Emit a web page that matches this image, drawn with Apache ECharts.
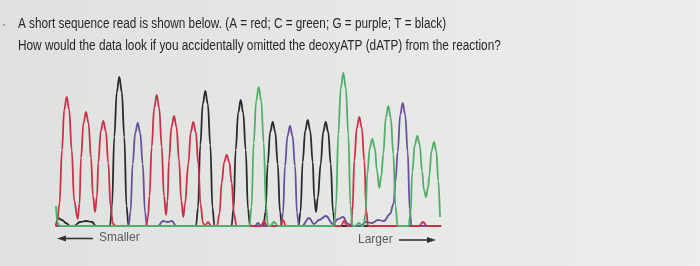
<!DOCTYPE html>
<html>
<head>
<meta charset="utf-8">
<script src="https://cdn.jsdelivr.net/npm/echarts@6/dist/echarts.min.js"></script>
<style>
html,body{margin:0;padding:0;background:#e6e8e6;}
#chart{width:700px;height:266px;}
</style>
</head>
<body>
<div id="chart"></div>
<script>
// Question text
var questionLines = [
  'A short sequence read is shown below. (A = red; C = green; G = purple; T = black)',
  'How would the data look if you accidentally omitted the deoxyATP (dATP) from the reaction?'
];
var axisLeftLabel = 'Smaller';
var axisRightLabel = 'Larger';

// Trace points: [position, signal height]
var traceA_red = [
  [56,0],[57,3],[59.5,22],[62,76],[64.2,116],[66.7,129],[69.2,116],[71.7,76],[74.2,25],[77.7,7],
  [79.5,22],[81,68],[83.5,103],[86,114],[88.5,103],[91,68],[93,30],[95,14],
  [97,30],[98.3,63],[100.8,95],[103.3,105],[105.8,95],[108.3,63],[110.5,20],[113,2],[116,0],
  [146,0],[148,8],[149.5,30],[151.7,79],[154.2,118],[156.7,131],[159.2,118],[161.7,79],[164,30],[166,11],
  [167.5,25],[169,66],[171.5,99],[174,110],[176.5,99],[179,66],[181.3,25],[183.3,9],
  [185,22],[188.3,62],[190.8,94],[193.3,104],[195.8,94],[198.3,62],[200.5,22],[203,3],[205,0],[208,4],[211,0],
  [217,0],[219.5,12],[221.7,43],[224.2,64],[226.7,71],[229.2,64],[231.7,43],[234,12],[236.5,0],
  [261,0],[264,5],[267,0],[280,0],[283,6],[286,0],
  [341,0],[344,5],[347,0],
  [351,0],[352.5,15],[354.3,65],[356.8,98],[359.3,109],[361.8,98],[364.3,65],[366.3,15],[368,0],
  [419,0],[423,4],[427,0],[441,0]
];
var traceC_green = [
  [56,20],[57.5,3],[60,0],
  [249.5,0],[251.5,19],[253.7,83],[256.2,125],[258.7,139],[261.2,125],[263.7,83],[266,19],[268,0],
  [270,0],[274,4],[278,0],
  [334,0],[336,20],[338.3,92],[340.8,138],[343.3,153],[345.8,138],[348.3,92],[350.5,20],[352.5,0],
  [355,0],[359,3],[362,0],
  [363.5,0],[365.5,12],[367.3,52],[369.8,78],[372.3,87],[374.8,78],[377,55],[379.3,38],
  [381.3,50],[383.3,72],[385.8,108],[388.3,120],[390.8,108],[393.3,72],[395.5,20],[397.5,0],
  [408.5,0],[410.5,12],[412.3,54],[414.8,81],[417.3,90],[419.8,81],[422,55],[424,36],[426,29],
  [428,38],[429.3,50],[431.5,75],[434,84],[436.3,75],[438.3,45],[440,9]
];
var traceG_purple = [
  [56,0],
  [128.5,0],[130.5,14],[132.7,62],[135.2,93],[137.7,103],[140.2,93],[142.7,62],[145,14],[147,0],
  [158,0],[163,5],[168,4],[172,5],[176,0],
  [255,0],[258,3],[261,0],
  [281,0],[283,13],[285,60],[287.5,90],[290,100],[292.5,90],[295,60],[297,13],[299,0],
  [302,0],[309,8],[314,2],[319,6],[326,10],[333,2],[338,7],[343,9],[348,2],[352,0],
  [360,0],[366,4],[372,3],[378,6],[384,5],[390,12],[393.5,22],[395.5,45],[397.7,74],[400.2,111],
  [402.7,123],[405.2,111],[407.7,74],[409.7,17],[411.5,0],
  [441,0]
];
var traceT_black = [
  [56,0],[58,8],[62,6],[66,3],[70,0],[74,0],[80,4],[86,5],[92,4],[96,0],
  [110,0],[112,20],[114.3,89],[116.8,134],[119.3,149],[121.8,134],[124.3,89],[126.5,20],[128.5,0],
  [196,0],[198,18],[200.3,81],[202.8,122],[205.3,135],[207.8,122],[210.3,81],[212.5,18],[214.5,0],
  [231.5,0],[233.5,17],[235.7,76],[238.2,113],[240.7,126],[243.2,113],[245.7,76],[248,17],[250,0],
  [263.5,0],[265.5,14],[267.7,62],[270.2,94],[272.7,104],[275.2,94],[277.7,62],[280,14],[282,0],
  [298.5,0],[300.5,14],[302.7,64],[305.2,95],[307.7,106],[310.2,95],[312.7,64],[314.3,28],[316,14],
  [317.8,28],[320.7,62],[323.2,94],[325.7,104],[328.2,94],[330.7,62],[333,14],[335,0],
  [441,0]
];

var chart = echarts.init(document.getElementById('chart'), null, {renderer:'canvas'});

function trace(name, data, color, z) {
  return {
    name: name, type: 'line', data: data, smooth: 0.4, smoothMonotone: 'x',
    showSymbol: false, symbol: 'none', clip: true, z: z,
    lineStyle: {color: color, width: 1.8}, emphasis: {disabled: true}, silent: true
  };
}

var textColor = '#262626';
var labelColor = '#5a5a5a';
var titleFont = '14px "Liberation Sans", Arial, sans-serif';

chart.setOption({
  backgroundColor: {
    type: 'linear', x: 0, y: 0, x2: 1, y2: 0,
    colorStops: [{offset: 0, color: '#dfe1df'}, {offset: 1, color: '#eceeec'}]
  },
  animation: false,
  grid: {left: 56, right: 259, top: 66, bottom: 40},
  xAxis: {
    type: 'value', min: 56, max: 441,
    axisLine: {show: true, lineStyle: {color: '#5f8a58', width: 1.5}},
    axisTick: {show: false}, axisLabel: {show: false}, splitLine: {show: false}
  },
  yAxis: {
    type: 'value', min: 0, max: 160,
    axisLine: {show: false}, axisTick: {show: false}, axisLabel: {show: false}, splitLine: {show: false}
  },
  series: [
    trace('T', traceT_black, '#2a2a2e', 3),
    trace('G', traceG_purple, '#6a4f9c', 4),
    trace('A', traceA_red, '#cc2f48', 5),
    trace('C', traceC_green, '#4fae68', 6)
  ],
  graphic: [
    {type: 'circle', shape: {cx: 4, cy: 25, r: 1}, style: {fill: '#9a9a9a'}, silent: true},
    {type: 'text', x: 18, y: 17, scaleX: 0.84, style: {text: questionLines[0], font: titleFont, fill: textColor}},
    {type: 'text', x: 18, y: 39, scaleX: 0.845, style: {text: questionLines[1], font: titleFont, fill: textColor}},
    // left arrow
    {type: 'line', shape: {x1: 64, y1: 238.5, x2: 93, y2: 238.5}, style: {stroke: '#333', lineWidth: 1.6}},
    {type: 'polygon', shape: {points: [[57, 238.5], [66, 235.5], [66, 241.5]]}, style: {fill: '#333'}},
    {type: 'text', x: 99, y: 232, style: {text: axisLeftLabel, font: '12px "Liberation Sans", Arial, sans-serif', fill: labelColor}},
    // right arrow
    {type: 'text', x: 358, y: 234, style: {text: axisRightLabel, font: '12px "Liberation Sans", Arial, sans-serif', fill: labelColor}},
    {type: 'line', shape: {x1: 399, y1: 240, x2: 428, y2: 240}, style: {stroke: '#333', lineWidth: 1.6}},
    {type: 'polygon', shape: {points: [[436, 240], [427, 237], [427, 243]]}, style: {fill: '#333'}}
  ]
});
</script>
</body>
</html>
